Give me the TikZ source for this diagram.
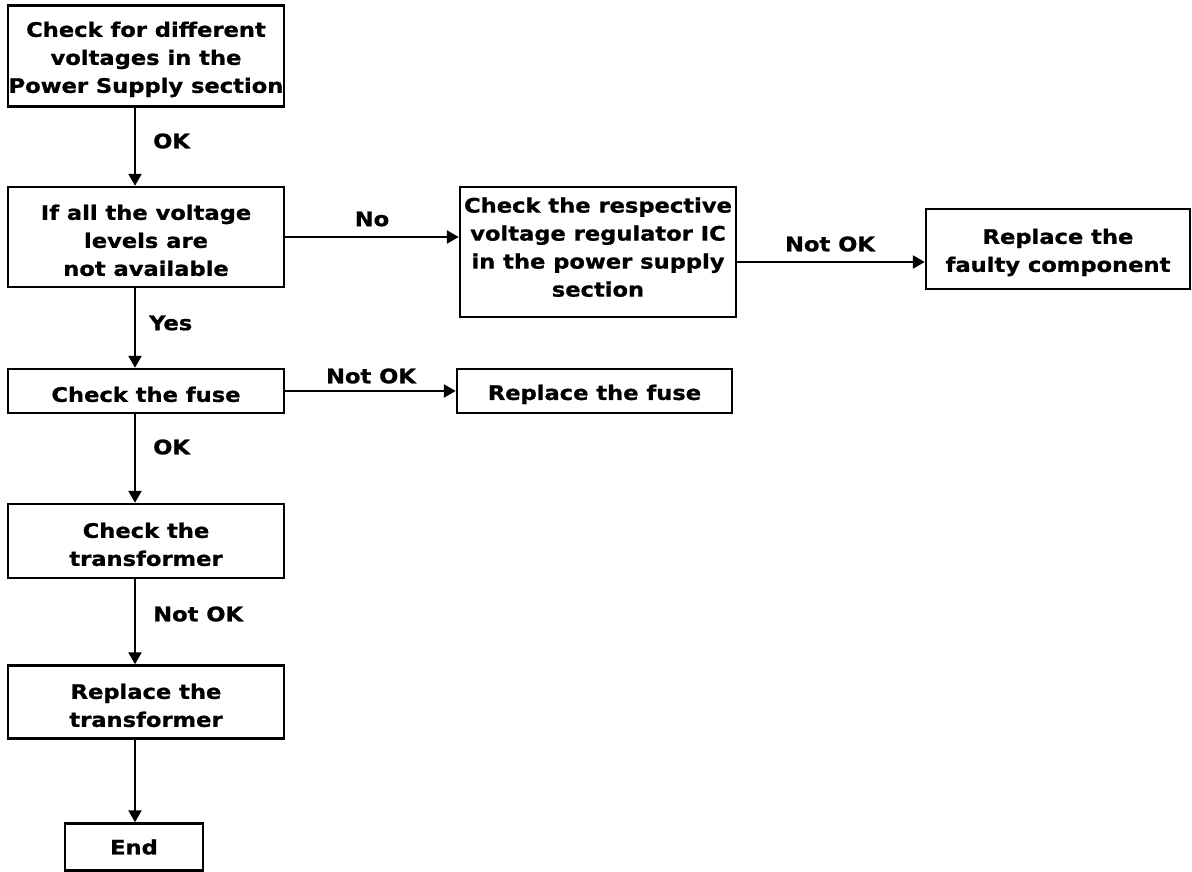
\documentclass[tikz,border=0pt]{standalone}
\usepackage{fontspec}
\setmainfont{DejaVu Sans}[FakeStretch=1.13,BoldFeatures={FakeBold=1}]
\usetikzlibrary{arrows.meta}
% taller first line so that the text sits a little lower in its box
\newcommand\boxstrut{\rule{0pt}{22pt}}
% deeper last line so that the text sits a little higher in its box
\newcommand\deepstrut{\rule[-10pt]{0pt}{10pt}}
\begin{document}
\begin{tikzpicture}[x=1pt,y=-1pt,
  every node/.style={font=\fontsize{20}{28}\selectfont\bfseries},
  box/.style={draw,line width=2.5pt,inner sep=0pt,align=center,minimum width=276pt},
  lbl/.style={inner sep=0pt},
  arr/.style={line width=2.5pt,-{Triangle[width=13pt,length=12pt]}}]
\useasboundingbox (0,0) rectangle (1192,871);
% main column
\node[box,minimum height=101pt] (check) at (146,56) {\boxstrut Check for different\\voltages in the\\Power Supply section};
\node[box,minimum height=100pt] (levels) at (146,237) {\boxstrut If all the voltage\\levels are\\not available};
\node[box,minimum height=44pt] (fuse) at (146,391) {\boxstrut Check the fuse};
\node[box,minimum height=74pt] (trans) at (146,541) {\boxstrut Check the\\transformer};
\node[box,minimum height=73pt] (rtrans) at (146,702) {\boxstrut Replace the\\transformer};
\node[box,minimum width=138pt,minimum height=47pt] (end) at (134,847) {End};
% side branches
\node[box,minimum height=130pt] (reg) at (598,252) {Check the respective\\voltage regulator IC\\in the power supply\\section\deepstrut};
\node[box,minimum width=275pt,minimum height=44pt] (rfuse) at (594.5,391) {\boxstrut Replace the fuse};
\node[box,minimum width=264pt,minimum height=80pt] (faulty) at (1058,249) {\boxstrut Replace the\\faulty component};
% vertical flow
\draw[arr] (check.south -| 135,0) -- (levels.north -| 135,0);
\draw[arr] (levels.south -| 135,0) -- (fuse.north -| 135,0);
\draw[arr] (fuse.south -| 135,0) -- (trans.north -| 135,0);
\draw[arr] (trans.south -| 135,0) -- (rtrans.north -| 135,0);
\draw[arr] (rtrans.south -| 135,0) -- (end.north -| 135,0);
% horizontal flow
\draw[arr] (levels.east) -- (levels.east -| reg.west);
\draw[arr] ([yshift=-10pt]reg.east) -- ([yshift=-10pt]reg.east -| faulty.west);
\draw[arr] (fuse.east) -- (fuse.east -| rfuse.west);
% labels
\node[lbl,anchor=west] (l1) at (153,141) {OK};
\node[lbl,anchor=west] (l2) at (149,323) {Yes};
\node[lbl,anchor=west] (l3) at (153,447) {OK};
\node[lbl,anchor=west] (l4) at (153,614) {Not OK};
\node[lbl] (l5) at (372,219) {No};
\node[lbl] (l6) at (371,376) {Not OK};
\node[lbl] (l7) at (830,244) {Not OK};
\end{tikzpicture}
\end{document}
